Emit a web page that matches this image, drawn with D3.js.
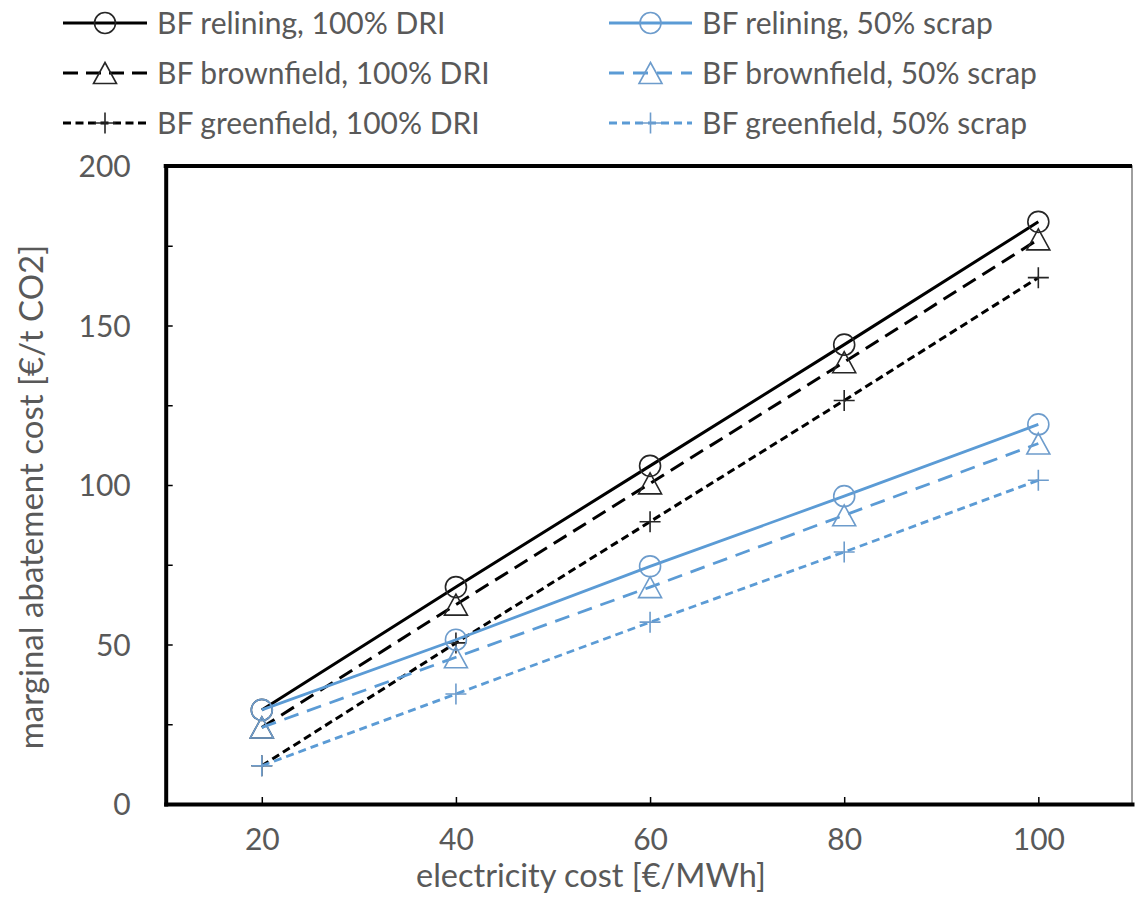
<!DOCTYPE html>
<html>
<head>
<meta charset="utf-8">
<script src="https://cdn.jsdelivr.net/npm/d3@7"></script>
<style>
  body { margin: 0; background: #fff; }
  svg { display: block; }
  text { font-family: Lato, "Open Sans", sans-serif; fill: #595959; }
</style>
</head>
<body>
<svg width="1135" height="907"></svg>
<script>
// electricity cost [€/MWh]
const electricity = [20, 40, 60, 80, 100];

// marginal abatement cost [€/t CO2]
const reliningDRI     = [29.5, 68, 106, 144, 182.5];
const brownfieldDRI   = [24, 62.5, 100.5, 138.5, 177];
const greenfieldDRI   = [12, 50.5, 88.5, 126.5, 165];
const reliningScrap   = [29.5, 51.5, 74.5, 96.5, 119];
const brownfieldScrap = [24, 46, 68, 90.5, 113];
const greenfieldScrap = [12, 34.5, 57, 79, 101.5];

const seriesNames = [
  "BF relining, 100% DRI", "BF brownfield, 100% DRI", "BF greenfield, 100% DRI",
  "BF relining, 50% scrap", "BF brownfield, 50% scrap", "BF greenfield, 50% scrap"
];
const yTicks = [0, 25, 50, 75, 100, 125, 150, 175, 200];

const black = "#000", blue = "#5b9bd5";
const styles = [
  {color: black, marker: "circle",   dash: null,     width: 3,   mcolor: "#262626"},
  {color: black, marker: "triangle", dash: "15,8",   width: 3,   mcolor: "#262626"},
  {color: black, marker: "plus",     dash: "8,4.5",  width: 3,   mcolor: "#262626"},
  {color: blue,  marker: "circle",   dash: null,     width: 2.8, mcolor: "#6d9ccc"},
  {color: blue,  marker: "triangle", dash: "15,9",   width: 2.8, mcolor: "#6d9ccc"},
  {color: blue,  marker: "plus",     dash: "8,5",    width: 2.8, mcolor: "#6d9ccc"}
];
const values = [reliningDRI, brownfieldDRI, greenfieldDRI, reliningScrap, brownfieldScrap, greenfieldScrap];
const series = seriesNames.map((name, i) => ({
  name, style: styles[i],
  points: electricity.map((e, j) => ({x: e, y: values[i][j]}))
}));

const svg = d3.select("svg");
const plot = {left: 165.7, right: 1132, top: 166, bottom: 804};

const x = d3.scaleLinear().domain([10.1, 109.65]).range([plot.left, plot.right]);
const y = d3.scaleLinear().domain([0, 200]).range([plot.bottom, plot.top]);

// plot frame: thin right side, thick axes and top
svg.append("rect")
  .attr("x", plot.left).attr("y", plot.top)
  .attr("width", plot.right - plot.left).attr("height", plot.bottom - plot.top)
  .attr("fill", "none").attr("stroke", "#7f7f7f").attr("stroke-width", 1.5);
svg.append("line")
  .attr("x1", plot.left - 2).attr("x2", plot.right)
  .attr("y1", plot.top).attr("y2", plot.top)
  .attr("stroke", "#000").attr("stroke-width", 4);

// axes
const xAxis = svg.append("g")
  .attr("transform", `translate(0,${plot.bottom})`)
  .call(d3.axisBottom(x).tickValues(electricity).tickSizeInner(-7).tickSizeOuter(0).tickPadding(0));
const yAxis = svg.append("g")
  .attr("transform", `translate(${plot.left},0)`)
  .call(d3.axisLeft(y).tickValues(yTicks).tickSizeInner(-7).tickSizeOuter(0).tickPadding(35)
    .tickFormat(d => d % 50 === 0 ? d : ""));

[xAxis, yAxis].forEach(a => {
  a.select(".domain").attr("stroke", "#000").attr("stroke-width", 4)
    .attr("stroke-linecap", "square");
  a.selectAll(".tick line").attr("stroke", "#000").attr("stroke-width", 1.5);
  a.selectAll("text").attr("fill", "#595959").style("font-size", "30px")
    .style("font-family", "Lato, 'Open Sans', sans-serif");
});
xAxis.selectAll(".tick text").attr("y", 35).attr("dy", "0.35em");
yAxis.selectAll(".tick text").attr("dy", "0.35em");

// axis titles
svg.append("text")
  .attr("x", 591).attr("y", 887)
  .attr("text-anchor", "middle")
  .style("font-size", "32.5px")
  .text("electricity cost [€/MWh]");
svg.append("text")
  .attr("transform", "translate(43,497) rotate(-90)")
  .attr("text-anchor", "middle")
  .style("font-size", "33px")
  .text("marginal abatement cost [€/t CO2]");

// marker drawing
function drawMarker(g, type, cx, cy, color) {
  if (type === "circle") {
    g.append("circle").attr("cx", cx).attr("cy", cy).attr("r", 10.5)
      .attr("fill", "none").attr("stroke", color).attr("stroke-width", 1.6);
  } else if (type === "triangle") {
    const w = 11.5, h = 10.5;
    g.append("path")
      .attr("d", `M${cx},${cy - h}L${cx + w},${cy + h}L${cx - w},${cy + h}Z`)
      .attr("fill", "none").attr("stroke", color).attr("stroke-width", 1.6);
  } else {
    const s = 10.5;
    g.append("path")
      .attr("d", `M${cx - s},${cy}H${cx + s}M${cx},${cy - s}V${cy + s}`)
      .attr("fill", "none").attr("stroke", color).attr("stroke-width", 1.6);
  }
}

const line = d3.line().x(d => x(d.x)).y(d => y(d.y));

series.forEach(s => {
  const g = svg.append("g");
  g.append("path")
    .datum(s.points)
    .attr("d", line)
    .attr("fill", "none")
    .attr("stroke", s.style.color)
    .attr("stroke-width", s.style.width)
    .attr("stroke-dasharray", s.style.dash);
  s.points.forEach(p => drawMarker(g, s.style.marker, x(p.x), y(p.y), s.style.mcolor));
});

// legend (two columns, three rows)
const legendCols = [{x0: 63, x1: 147, tx: 157}, {x0: 609, x1: 692, tx: 702}];
const legendRows = [23, 73, 123];
series.forEach((s, i) => {
  const c = legendCols[Math.floor(i / 3)], ry = legendRows[i % 3];
  const g = svg.append("g");
  g.append("line")
    .attr("x1", c.x0).attr("x2", c.x1).attr("y1", ry).attr("y2", ry)
    .attr("stroke", s.style.color).attr("stroke-width", s.style.width)
    .attr("stroke-dasharray", s.style.dash);
  drawMarker(g, s.style.marker, (c.x0 + c.x1) / 2, ry, s.style.mcolor);
  g.append("text")
    .attr("x", c.tx).attr("y", ry).attr("dy", "0.35em")
    .style("font-size", "30px")
    .text(s.name);
});
</script>
</body>
</html>
